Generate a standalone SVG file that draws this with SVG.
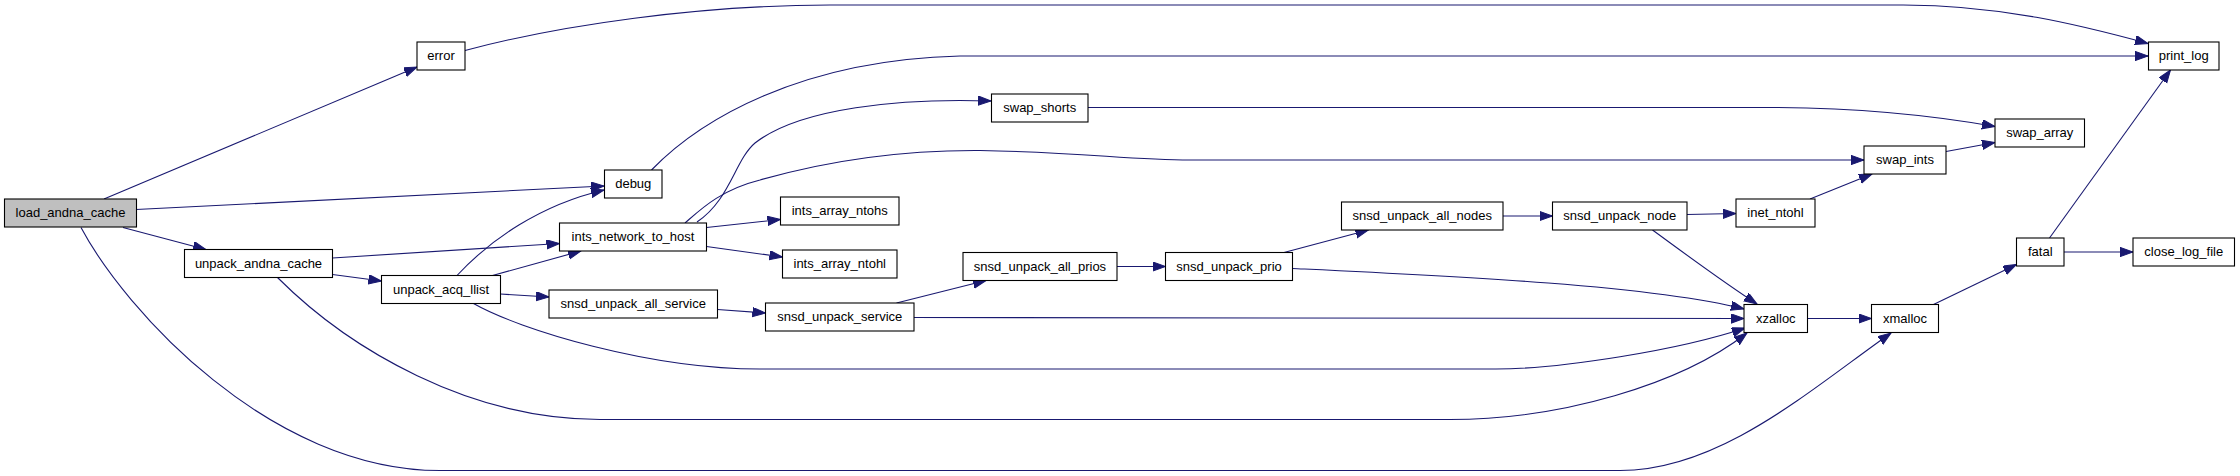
<svg xmlns="http://www.w3.org/2000/svg" width="2240" height="476" viewBox="0 0 2240 476">
<style>
.n rect{fill:#fff;stroke:#000;stroke-width:1.1}
.n.root rect{fill:#bfbfbf}
.n text{font-family:"Liberation Sans",Arial,sans-serif;font-size:13px;text-anchor:middle;fill:#000}
.e path{fill:none;stroke:#191970;stroke-width:1.1;marker-end:url(#arr)}
</style>
<defs>
<marker id="arr" markerUnits="userSpaceOnUse" markerWidth="15" markerHeight="11" refX="13" refY="4.65" orient="auto">
<path d="M0,0 L13,4.65 L0,9.3 z" fill="#191970" stroke="#191970" stroke-width="1"/>
</marker>
</defs>
<rect width="2240" height="476" fill="#fff"/>
<g id="edges" class="e">
<path d="M104,199 L417,67"/>
<path d="M136,209.5 L604,186"/>
<path d="M123,227.5 L206,249.5"/>
<path d="M81,227.5 C125,310 270,470.5 440,470.5 L1620,470.5 C1720,470.5 1810,390 1891,333"/>
<path d="M332.5,258 L559.5,243.5"/>
<path d="M332.5,274.5 L381.5,281"/>
<path d="M277.5,277.5 C350,350 470,419.5 600,419.5 L1450,419.5 C1560,419.5 1680,385 1747,333"/>
<path d="M457,275.5 C490,240 540,205 604,190"/>
<path d="M492.5,275.5 L581,251"/>
<path d="M500.5,294 L549,297"/>
<path d="M473.5,303.5 C520,330 650,369 760,369 L1496,369 C1560,369 1680,350 1745,328"/>
<path d="M651.5,170 C700,120 800,60 960,56 L2148,56"/>
<path d="M697,222 C730,200 735,160 755,143 C800,108 900,98 991,101"/>
<path d="M685,223 C700,210 720,190 760,180 C830,160 900,150 980,150.5 C1080,152 1130,160 1190,160 L1864,160"/>
<path d="M706.5,227.5 L780.5,219.5"/>
<path d="M706.5,246.5 L782.5,257"/>
<path d="M717.5,309.5 L765.5,313"/>
<path d="M896.5,303 L986,280.5"/>
<path d="M913.5,317.5 L1744,318.5"/>
<path d="M1117,266.5 L1165.5,266.5"/>
<path d="M1284,252.5 L1368.5,230"/>
<path d="M1292.5,268.5 C1450,276 1650,285 1744,309"/>
<path d="M1503,216 L1552.5,216"/>
<path d="M1687,214.5 L1736,213.5"/>
<path d="M1652.5,230 C1680,250 1720,280 1757,304"/>
<path d="M1810,199 L1872,174"/>
<path d="M1946,151.5 L1995,142.5"/>
<path d="M1088,107.5 L1777,107.5 C1850,108 1930,115 1995,126.5"/>
<path d="M465,50.5 C560,25 700,5 830,5 L1903,5 C2000,5 2080,25 2148,43.5"/>
<path d="M1807.5,318.5 L1871.5,318.5"/>
<path d="M1933.5,304.5 L2016.5,264.5"/>
<path d="M2049.5,238 L2170.5,70"/>
<path d="M2064,252 L2133,252"/>
</g>
<g id="load_andna_cache" class="n root"><rect x="4.5" y="199" width="132" height="28"/><text x="70.5" y="217">load_andna_cache</text></g>
<g id="error" class="n"><rect x="417" y="42" width="48" height="28"/><text x="441" y="60">error</text></g>
<g id="debug" class="n"><rect x="604.5" y="170" width="57.5" height="28"/><text x="633.25" y="188">debug</text></g>
<g id="unpack_andna_cache" class="n"><rect x="184.5" y="249.5" width="148" height="28"/><text x="258.5" y="267.5">unpack_andna_cache</text></g>
<g id="unpack_acq_llist" class="n"><rect x="381.5" y="275.5" width="119" height="28"/><text x="441" y="293.5">unpack_acq_llist</text></g>
<g id="ints_network_to_host" class="n"><rect x="559.5" y="223" width="147" height="28"/><text x="633" y="241">ints_network_to_host</text></g>
<g id="snsd_unpack_all_service" class="n"><rect x="549" y="290" width="168.5" height="28"/><text x="633.25" y="308">snsd_unpack_all_service</text></g>
<g id="swap_shorts" class="n"><rect x="991.5" y="94" width="96.5" height="28"/><text x="1039.75" y="112">swap_shorts</text></g>
<g id="ints_array_ntohs" class="n"><rect x="780.5" y="197" width="118.5" height="28"/><text x="839.75" y="215">ints_array_ntohs</text></g>
<g id="ints_array_ntohl" class="n"><rect x="782.5" y="250" width="114.5" height="28"/><text x="839.75" y="268">ints_array_ntohl</text></g>
<g id="snsd_unpack_all_prios" class="n"><rect x="963" y="252.5" width="154" height="28"/><text x="1040" y="270.5">snsd_unpack_all_prios</text></g>
<g id="snsd_unpack_prio" class="n"><rect x="1165.5" y="252.5" width="127" height="28"/><text x="1229" y="270.5">snsd_unpack_prio</text></g>
<g id="snsd_unpack_all_nodes" class="n"><rect x="1341.5" y="202" width="161.5" height="28"/><text x="1422.25" y="220">snsd_unpack_all_nodes</text></g>
<g id="snsd_unpack_service" class="n"><rect x="765.5" y="303" width="148.5" height="28"/><text x="839.75" y="321">snsd_unpack_service</text></g>
<g id="snsd_unpack_node" class="n"><rect x="1552.5" y="202" width="134.5" height="28"/><text x="1619.75" y="220">snsd_unpack_node</text></g>
<g id="inet_ntohl" class="n"><rect x="1736" y="199" width="79" height="28"/><text x="1775.5" y="217">inet_ntohl</text></g>
<g id="swap_ints" class="n"><rect x="1864" y="146" width="82" height="28"/><text x="1905" y="164">swap_ints</text></g>
<g id="swap_array" class="n"><rect x="1995" y="119" width="89.5" height="28"/><text x="2039.75" y="137">swap_array</text></g>
<g id="print_log" class="n"><rect x="2148.5" y="42" width="70.5" height="28"/><text x="2183.75" y="60">print_log</text></g>
<g id="fatal" class="n"><rect x="2016.5" y="238" width="47.5" height="28"/><text x="2040.25" y="256">fatal</text></g>
<g id="close_log_file" class="n"><rect x="2133" y="238" width="101.5" height="28"/><text x="2183.75" y="256">close_log_file</text></g>
<g id="xzalloc" class="n"><rect x="1744" y="304.5" width="63.5" height="28"/><text x="1775.75" y="322.5">xzalloc</text></g>
<g id="xmalloc" class="n"><rect x="1871.5" y="304.5" width="67" height="28"/><text x="1905" y="322.5">xmalloc</text></g>
</svg>
